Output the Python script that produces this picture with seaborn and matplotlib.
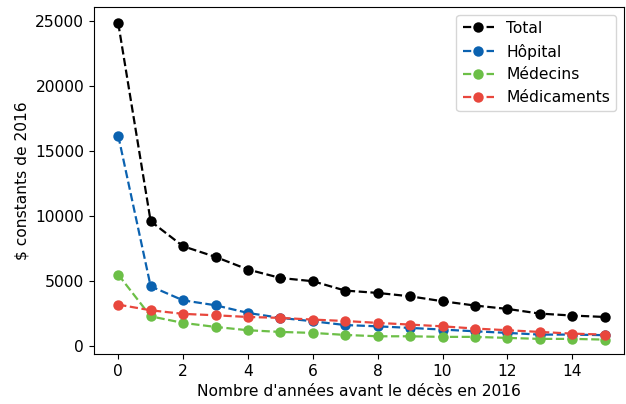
import pandas as pd
import matplotlib
matplotlib.use("Agg")
import matplotlib.pyplot as plt
import seaborn as sns

# Years before death (2016)
annees = list(range(16))

# Costs in constant 2016 dollars
total = [24800, 9560, 7640, 6820, 5850, 5200, 4950, 4230,
         4050, 3790, 3410, 3080, 2820, 2460, 2310, 2200]
hopital = [16150, 4560, 3480, 3100, 2510, 2130, 1870, 1580,
           1480, 1360, 1230, 1100, 975, 845, 845, 800]
medecins = [5460, 2250, 1745, 1435, 1180, 1050, 975, 820,
            715, 715, 670, 670, 590, 515, 515, 460]
medicaments = [3150, 2715, 2440, 2330, 2200, 2130, 2000, 1890,
               1745, 1615, 1480, 1310, 1180, 1050, 920, 845]

series = {
    "Total": total,
    "Hôpital": hopital,
    "Médecins": medecins,
    "Médicaments": medicaments,
}
couleurs = ["black", "#0b62b0", "#6cbf47", "#e8473d"]

df = pd.DataFrame(
    [(a, nom, v) for nom, vals in series.items() for a, v in zip(annees, vals)],
    columns=["annee", "poste", "cout"],
)

sns.set_style("ticks", {"axes.edgecolor": "black", "text.color": "black",
                        "axes.labelcolor": "black", "xtick.color": "black",
                        "ytick.color": "black"})
plt.rcParams["font.family"] = ["DejaVu Sans"]
fs = 11.2

fig, ax = plt.subplots(figsize=(6.26, 4.04), dpi=100)
fig.subplots_adjust(left=0.150, right=0.997, top=0.983, bottom=0.124)

for (nom, _), c in zip(series.items(), couleurs):
    sub = df[df["poste"] == nom]
    sns.lineplot(data=sub, x="annee", y="cout", ax=ax, color=c, label=nom,
                 linestyle="--", marker="o", markersize=7.5, markeredgewidth=0,
                 linewidth=1.6)

ax.set_xlabel("Nombre d'années avant le décès en 2016", fontsize=fs)
ax.set_ylabel("$ constants de 2016", fontsize=fs)
ax.set_xticks(range(0, 16, 2))
ax.set_yticks(range(0, 25001, 5000))
ax.tick_params(labelsize=fs)
ax.set_xlim(-0.75, 15.6)
ax.set_ylim(-640, 26050)
ax.legend(loc="upper right", fontsize=fs)

fig.savefig("out.png", dpi=100)
